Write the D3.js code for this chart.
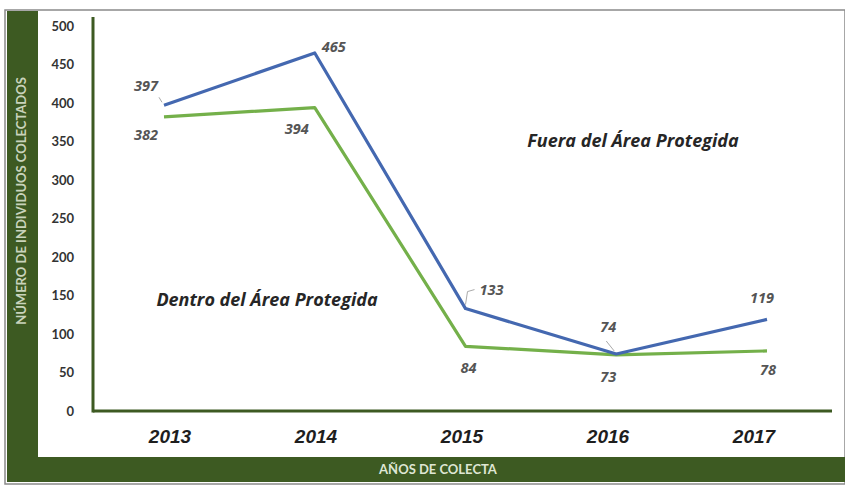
<!DOCTYPE html>
<html>
<head>
<meta charset="utf-8">
<script src="https://cdn.jsdelivr.net/npm/d3@7"></script>
<style>
  body { margin: 0; background: #fff; }
  text { font-family: Lato, "Open Sans", sans-serif; }
</style>
</head>
<body>
<div id="chart"></div>
<script>
let years = ["2013", "2014", "2015", "2016", "2017"];
let fuera = [397, 465, 133, 74, 119];
let dentro = [382, 394, 84, 73, 78];
let yTicks = [0, 50, 100, 150, 200, 250, 300, 350, 400, 450, 500];

let width = 845, height = 486;
let darkGreen = "#3d5a22";

let svg = d3.select("#chart")
    .append("svg")
    .attr("width", width)
    .attr("height", height);

// frame
svg.append("rect")
    .attr("x", 5).attr("y", 10)
    .attr("width", width - 5).attr("height", height - 12)
    .attr("fill", "#fff")
    .attr("stroke", "#8a8a8a")
    .attr("stroke-width", 1.5);

svg.append("rect")
    .attr("x", 7).attr("y", 11)
    .attr("width", 31).attr("height", 471)
    .attr("fill", darkGreen);

svg.append("rect")
    .attr("x", 7).attr("y", 457)
    .attr("width", width - 7).attr("height", 25)
    .attr("fill", darkGreen);

let x = d3.scalePoint()
    .domain(years)
    .range([164, 767]);

// year labels sit a little inward from the points
let xLabel = d3.scalePoint()
    .domain(years)
    .range([170, 754]);

let y = d3.scaleLinear()
    .domain([0, 500])
    .range([411, 26]);

// axes
svg.append("line")
    .attr("x1", 93).attr("x2", 93)
    .attr("y1", 17).attr("y2", y(0) + 1.5)
    .attr("stroke", darkGreen).attr("stroke-width", 3);

svg.append("line")
    .attr("x1", 93).attr("x2", 832)
    .attr("y1", y(0)).attr("y2", y(0))
    .attr("stroke", darkGreen).attr("stroke-width", 3);

svg.append("g")
    .selectAll("text")
    .data(yTicks)
    .enter()
    .append("text")
    .attr("x", 74)
    .attr("y", d => y(d))
    .attr("dy", "0.35em")
    .style("text-anchor", "end")
    .style("font-size", 13)
    .style("font-weight", "bold")
    .style("fill", "#333")
    .text(d => d);

svg.append("g")
    .selectAll("text")
    .data(years)
    .enter()
    .append("text")
    .attr("x", d => xLabel(d))
    .attr("y", 436)
    .attr("dy", "0.35em")
    .style("text-anchor", "middle")
    .style("font-family", "'Liberation Sans', Arial, sans-serif")
    .style("font-size", 19)
    .style("font-weight", "bold")
    .style("font-style", "italic")
    .style("fill", "#1e1e1e")
    .text(d => d);

// axis titles
svg.append("text")
    .attr("transform", "translate(26, 201) rotate(-90)")
    .style("text-anchor", "middle")
    .style("font-size", 13)
    .style("font-weight", "bold")
    .style("fill", "#c9d3bb")
    .text("NÚMERO DE INDIVIDUOS COLECTADOS");

svg.append("text")
    .attr("x", 438)
    .attr("y", 469)
    .attr("dy", "0.35em")
    .style("text-anchor", "middle")
    .style("font-size", 13)
    .style("font-weight", "bold")
    .style("fill", "#dfe6d4")
    .text("AÑOS DE COLECTA");

let line = d3.line()
    .x((d, i) => x(years[i]))
    .y(d => y(d));

svg.append("path")
    .datum(dentro)
    .attr("d", line)
    .attr("fill", "none")
    .attr("stroke", "#74b04a")
    .attr("stroke-width", 3.2)
    .attr("stroke-linejoin", "round");

svg.append("path")
    .datum(fuera)
    .attr("d", line)
    .attr("fill", "none")
    .attr("stroke", "#4468b0")
    .attr("stroke-width", 3.2)
    .attr("stroke-linejoin", "round");

// data labels: offsets from each point
let fueraOff = [[-18, -19], [19, -6], [26, -19], [-8, -27], [-5, -21]];
let dentroOff = [[-18, 18], [-18, 21], [3, 22], [-8, 22], [1, 19]];

function labels(values, off) {
    svg.append("g")
        .selectAll("text")
        .data(values)
        .enter()
        .append("text")
        .attr("x", (d, i) => x(years[i]) + off[i][0])
        .attr("y", (d, i) => y(d) + off[i][1])
        .attr("dy", "0.35em")
        .style("text-anchor", "middle")
        .style("font-family", "'Open Sans', sans-serif")
        .style("font-size", 14.5)
        .style("font-weight", "bold")
        .style("font-style", "italic")
        .style("fill", "#555")
        .text(d => d);
}
labels(fuera, fueraOff);
labels(dentro, dentroOff);

// leader lines
svg.append("path")
    .attr("d", `M${x("2015")},${y(133) - 4} L${x("2015") + 2},${y(133) - 17} L${x("2015") + 9},${y(133) - 19}`)
    .attr("fill", "none").attr("stroke", "#aaa").attr("stroke-width", 1);
svg.append("path")
    .attr("d", `M${x("2016") - 2},${y(74) - 3} L${x("2016") - 10},${y(74) - 13}`)
    .attr("fill", "none").attr("stroke", "#aaa").attr("stroke-width", 1);
svg.append("path")
    .attr("d", `M${x("2013") - 2},${y(397) - 3} L${x("2013") - 5},${y(397) - 8}`)
    .attr("fill", "none").attr("stroke", "#aaa").attr("stroke-width", 1);

// series names
svg.append("text")
    .attr("x", 633).attr("y", 141)
    .attr("dy", "0.35em")
    .style("text-anchor", "middle")
    .style("font-family", "'Open Sans', sans-serif")
    .style("font-size", 18)
    .style("font-weight", "bold")
    .style("font-style", "italic")
    .style("fill", "#262626")
    .text("Fuera del Área Protegida");

svg.append("text")
    .attr("x", 267).attr("y", 300)
    .attr("dy", "0.35em")
    .style("text-anchor", "middle")
    .style("font-family", "'Open Sans', sans-serif")
    .style("font-size", 18)
    .style("font-weight", "bold")
    .style("font-style", "italic")
    .style("fill", "#262626")
    .text("Dentro del Área Protegida");
</script>
</body>
</html>
